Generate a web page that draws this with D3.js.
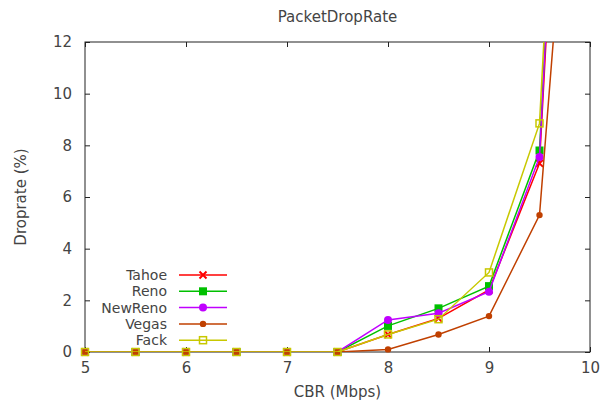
<!DOCTYPE html>
<html>
<head>
<meta charset="utf-8">
<script src="https://cdn.jsdelivr.net/npm/d3@7"></script>
<style>
  body { margin: 0; background: #fff; }
  text { font-family: "DejaVu Sans", sans-serif; font-size: 15px; fill: #444; }
</style>
</head>
<body>
<script>
'use strict';
// CBR rates (Mbps) and drop rate (%) per TCP variant
const cbr = [5, 5.5, 6, 6.5, 7, 7.5, 8, 8.5, 9, 9.5, 10];
const tahoe   = [0, 0, 0, 0, 0, 0, 0.68, 1.3, 2.4, 7.3, 44];
const reno    = [0, 0, 0, 0, 0, 0, 1.01, 1.69, 2.55, 7.8, 45];
const newreno = [0, 0, 0, 0, 0, 0, 1.24, 1.5, 2.33, 7.55, 46];
const vegas   = [0, 0, 0, 0, 0, 0, 0.1, 0.68, 1.39, 5.3, 30];
const fack    = [0, 0, 0, 0, 0, 0, 0.68, 1.27, 3.08, 8.85, 45.5];
const seriesNames = ['Tahoe', 'Reno', 'NewReno', 'Vegas', 'Fack'];
const xTicks = [5, 6, 7, 8, 9, 10];
const yTicks = [0, 2, 4, 6, 8, 10, 12];

(function() {
    let dims = { width: 607, height: 400, left: 85, right: 590, top: 42, bottom: 352 };
    let styles = [
        { color: '#ff0000', shape: 'cross' },
        { color: '#00c000', shape: 'square' },
        { color: '#c000ff', shape: 'circle' },
        { color: '#c04000', shape: 'dot' },
        { color: '#c8c800', shape: 'open' }
    ];
    let allValues = [tahoe, reno, newreno, vegas, fack];

    let svg = d3.select('body').append('svg')
                .attr('width', dims.width)
                .attr('height', dims.height);

    let x = d3.scaleLinear().domain([5, 10]).range([dims.left, dims.right]);
    let y = d3.scaleLinear().domain([0, 12]).range([dims.bottom, dims.top]);

    svg.append('clipPath').attr('id', 'plot-clip')
        .append('rect')
        .attr('x', dims.left).attr('y', dims.top)
        .attr('width', dims.right - dims.left)
        .attr('height', dims.bottom - dims.top);

    // axes with inward, mirrored ticks
    let tickStyle = (g) => {
        g.select('.domain').remove();
        g.selectAll('line').attr('stroke', '#222');
        g.selectAll('text').style('font-size', '15px').attr('fill', '#444');
    };
    svg.append('g').attr('transform', 'translate(0,' + dims.bottom + ')')
        .call(d3.axisBottom(x).tickValues(xTicks).tickFormat(d3.format('d'))
              .tickSizeInner(-5).tickSizeOuter(0).tickPadding(10))
        .call(tickStyle);
    svg.append('g').attr('transform', 'translate(0,' + dims.top + ')')
        .call(d3.axisTop(x).tickValues(xTicks).tickSizeInner(-5).tickSizeOuter(0).tickFormat(''))
        .call(tickStyle);
    svg.append('g').attr('transform', 'translate(' + dims.left + ',0)')
        .call(d3.axisLeft(y).tickValues(yTicks).tickFormat(d3.format('d'))
              .tickSizeInner(-5).tickSizeOuter(0).tickPadding(13))
        .call(tickStyle);
    svg.append('g').attr('transform', 'translate(' + dims.right + ',0)')
        .call(d3.axisRight(y).tickValues(yTicks).tickSizeInner(-5).tickSizeOuter(0).tickFormat(''))
        .call(tickStyle);

    svg.append('rect')
        .attr('x', dims.left).attr('y', dims.top)
        .attr('width', dims.right - dims.left)
        .attr('height', dims.bottom - dims.top)
        .attr('fill', 'none').attr('stroke', '#222').attr('stroke-width', 1);

    // titles
    svg.append('text')
        .attr('x', (dims.left + dims.right) / 2).attr('y', 22)
        .attr('text-anchor', 'middle')
        .text('PacketDropRate');
    svg.append('text')
        .attr('x', (dims.left + dims.right) / 2).attr('y', 397)
        .attr('text-anchor', 'middle')
        .text('CBR (Mbps)');
    svg.append('text')
        .attr('transform', 'translate(26,' + ((dims.top + dims.bottom) / 2) + ')rotate(-90)')
        .attr('text-anchor', 'middle')
        .text('Droprate (%)');

    function drawMarker(g, shape, color, cx, cy) {
        if (shape === 'cross') {
            g.append('path')
                .attr('d', 'M' + (cx - 3.5) + ',' + (cy - 3.5) + 'L' + (cx + 3.5) + ',' + (cy + 3.5) +
                           'M' + (cx - 3.5) + ',' + (cy + 3.5) + 'L' + (cx + 3.5) + ',' + (cy - 3.5))
                .attr('stroke', color).attr('stroke-width', 2);
        } else if (shape === 'square') {
            g.append('rect').attr('x', cx - 4).attr('y', cy - 4)
                .attr('width', 8).attr('height', 8).attr('fill', color);
        } else if (shape === 'circle') {
            g.append('circle').attr('cx', cx).attr('cy', cy).attr('r', 4).attr('fill', color);
        } else if (shape === 'dot') {
            g.append('circle').attr('cx', cx).attr('cy', cy).attr('r', 3.2).attr('fill', color);
        } else {
            g.append('rect').attr('x', cx - 3.5).attr('y', cy - 3.5)
                .attr('width', 7).attr('height', 7)
                .attr('fill', 'none').attr('stroke', color).attr('stroke-width', 1.5);
        }
    }

    let line = d3.line()
        .x((d, i) => x(cbr[i]))
        .y((d) => y(d));

    allValues.forEach((vals, k) => {
        let st = styles[k];
        let g = svg.append('g');
        g.append('path')
            .datum(vals)
            .attr('clip-path', 'url(#plot-clip)')
            .attr('fill', 'none')
            .attr('stroke', st.color)
            .attr('stroke-width', 1.5)
            .attr('d', line);
        vals.forEach((v, i) => {
            if (v <= 12) drawMarker(g, st.shape, st.color, x(cbr[i]), y(v));
        });
    });

    // legend
    let legY = [275, 291.3, 307.6, 323.9, 340.2];
    seriesNames.forEach((name, k) => {
        let st = styles[k];
        let g = svg.append('g');
        g.append('text')
            .attr('x', 167).attr('y', legY[k])
            .attr('dy', '0.35em')
            .attr('text-anchor', 'end')
            .style('font-size', '14px')
            .text(name);
        g.append('line')
            .attr('x1', 179).attr('x2', 227)
            .attr('y1', legY[k]).attr('y2', legY[k])
            .attr('stroke', st.color).attr('stroke-width', 1.5);
        drawMarker(g, st.shape, st.color, 203, legY[k]);
    });
})();
</script>
</body>
</html>
